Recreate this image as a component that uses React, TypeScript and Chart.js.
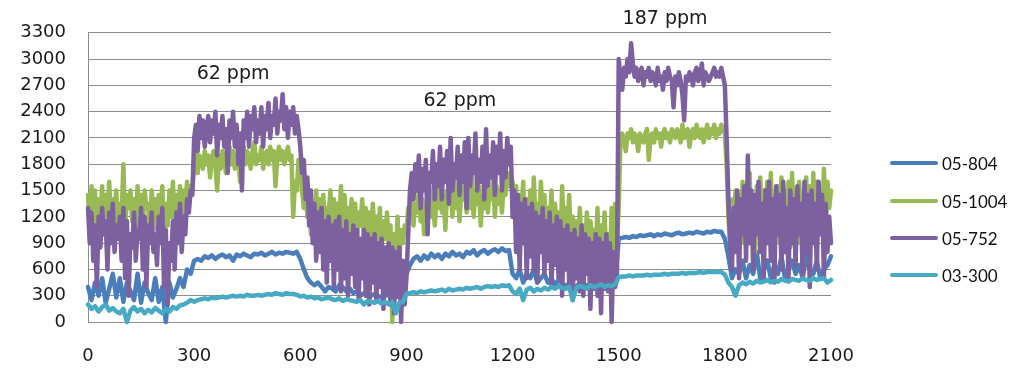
import React, { useEffect, useRef } from "react";
import { Chart, registerables } from "chart.js";

Chart.register(...registerables);

// x sampling positions
const xCoarse: number[] = Array.from({ length: 211 }, (_, i) => i * 10); // 0..2100 step 10
const xFine: number[] = Array.from({ length: 421 }, (_, i) => i * 5); // 0..2100 step 5

const seriesNames = ["05-804", "05-1004", "05-752", "03-300"];
const seriesColors = ["#4a7ebb", "#98b954", "#7d60a0", "#46aac5"];

// step 10
const s05_804: number[] = [
  400, 250, 450, 300, 500, 220, 380, 550, 280, 500, 230, 450, 350, 250, 550, 220, 450, 330, 250, 500, 230, 400, 0, 450, 280, 380, 500, 400, 600, 550,
  700, 720, 700, 750, 730, 760, 720, 750, 770, 740, 760, 700, 770, 750, 780, 760, 740, 780, 770, 790, 760, 780, 800, 770, 790, 780, 800, 790, 780, 800,
  720, 600, 500, 450, 420, 450, 400, 350, 400, 380, 350, 420, 400, 350, 380, 330, 350, 300, 330, 310, 300, 320, 300, 280, 300, 310, 280, 300, 280, 290,
  550, 650, 720, 750, 700, 760, 720, 780, 740, 770, 720, 780, 750, 800, 760, 780, 740, 800, 780, 820, 760, 800, 820, 780, 810, 830, 800, 840, 810, 820,
  550, 500, 600, 450, 550, 500, 600, 450, 500, 550, 450, 500, 420, 480, 450, 400, 450, 420, 400, 450, 380, 420, 400, 380, 420, 400, 380, 400, 420, 450,
  950, 960, 970, 960, 980, 970, 990, 980, 990, 1000, 980, 1000, 990, 1010, 1000, 990, 1010, 1020, 1000, 1010, 1020, 1010, 1030, 1020, 1010, 1030, 1020, 1040, 1030, 1030,
  950, 750, 500, 600, 550, 700, 500, 650, 550, 800, 500, 600, 700, 500, 650, 550, 750, 500, 600, 700, 550, 650, 500, 750, 600, 550, 700, 500, 600, 650,
  750,
];

// step 5
const s05_1004: number[] = [
  1450, 1100, 1550, 1300, 1500, 900, 1400, 1200, 1550, 1000, 1450, 1250, 1600, 1100, 1400, 1300, 1500, 1000, 1350, 1200,
  1800, 1050, 1450, 1300, 1500, 1150, 1400, 1000, 1550, 1250, 1450, 1100, 1500, 1300, 1350, 950, 1500, 1200, 1400, 1050,
  1450, 1250, 1550, 900, 1350, 1100, 1500, 1200, 1600, 1050, 1450, 1300, 1550, 1150, 1500, 1350, 1600, 1400, 1550, 1500,
  1800, 1950, 1700, 1900, 1850, 1750, 1950, 1800, 1900, 1650, 1850, 1950, 1800, 1500, 1900, 1750, 1950, 1850, 1700, 1900,
  2000, 1800, 1950, 1750, 1900, 1850, 1600, 1900, 2000, 1800, 1950, 1850, 1750, 1950, 2050, 1800, 1900, 1850, 2000, 1750,
  1900, 1950, 1800, 2000, 1850, 1950, 1550, 1900, 2000, 1850, 1950, 1800, 1900, 2000, 1850, 1900, 1200, 1600, 1500, 1850,
  1750, 1500, 1300, 1600, 1200, 1450, 1000, 1350, 1100, 1500, 950, 1400, 1150, 1450, 1000, 1300, 1200, 1500, 1050, 1400,
  900, 1350, 1100, 1550, 1000, 1450, 1150, 1300, 950, 1400, 1050, 1350, 900, 1250, 1100, 1400, 950, 1300, 1000, 1250,
  850, 1350, 1000, 1200, 900, 1300, 800, 1150, 950, 1250, 850, 1100, 0, 1000, 800, 1200, 700, 1050, 900, 1100,
  1000, 1300, 1200, 1450, 1100, 1350, 1250, 1500, 1150, 1400, 1000, 1350, 1300, 1550, 1200, 1450, 1100, 1400, 1300, 1600,
  1250, 1450, 1050, 1500, 1350, 1550, 1200, 1650, 1300, 1450, 1150, 1500, 1400, 1600, 1250, 1450, 1300, 1700, 1200, 1500,
  1350, 1550, 1100, 1450, 1300, 1600, 1250, 1500, 1400, 1650, 1200, 1550, 1350, 1500, 1250, 1600, 1450, 1700, 1550, 1650,
  1600, 1200, 1550, 1000, 1450, 1250, 1600, 900, 1400, 1150, 1500, 1000, 1650, 1100, 1350, 950, 1600, 1200, 1450, 900,
  1300, 1100, 1500, 850, 1350, 1050, 1250, 800, 1550, 1000, 1300, 900, 1450, 850, 1200, 1000, 1150, 750, 1300, 900,
  1100, 800, 1250, 700, 1150, 900, 1050, 750, 1300, 650, 1100, 850, 1250, 700, 1000, 600, 1300, 800, 1350, 900,
  1300, 2100, 2150, 2050, 1950, 2150, 2100, 2200, 2050, 2150, 2100, 1950, 2150, 2100, 2050, 2150, 2200, 1850, 2100, 2150,
  2050, 2200, 2100, 2150, 2000, 2150, 2200, 2100, 2150, 2050, 2200, 2150, 2100, 2200, 2150, 2050, 2250, 2100, 2150, 2200,
  2000, 2150, 2200, 2100, 2250, 2150, 2100, 2200, 2050, 2150, 2250, 2100, 2200, 2150, 2250, 2100, 2200, 2150, 2250, 2200,
  2150, 1800, 1200, 900, 1400, 1000, 1500, 800, 1450, 1100, 1600, 900, 1500, 1200, 1700, 1000, 1450, 800, 1550, 1100,
  1650, 900, 1500, 1200, 1600, 1000, 1700, 800, 1450, 1100, 1550, 900, 1650, 1200, 1500, 1000, 1600, 850, 1700, 1100,
  1500, 900, 1600, 1200, 1450, 1000, 1650, 800, 1550, 1100, 1700, 950, 1600, 1200, 1500, 1000, 1750, 1100, 1600, 1300,
  1500,
];

// step 5
const s05_752: number[] = [
  1300, 900, 1250, 700, 1100, 400, 1200, 850, 1300, 1000, 1150, 600, 1250, 900, 1350, 800, 1100, 950, 1200, 700,
  1300, 500, 1150, 300, 1000, 850, 1250, 700, 1050, 950, 1300, 600, 1200, 400, 1100, 900, 1250, 800, 1000, 650,
  1200, 900, 1300, 400, 1050, 200, 900, 700, 1150, 600, 1250, 900, 1350, 800, 1200, 1000, 1400, 1250, 1500, 1450,
  2100, 2250, 1950, 2350, 2100, 2300, 2000, 2200, 2350, 2050, 2300, 2150, 2400, 1900, 2250, 2100, 2350, 2000, 2200, 1700,
  2300, 2100, 2400, 2000, 2250, 1800, 2150, 1500, 2300, 2100, 2400, 2000, 2350, 2200, 2450, 2050, 2300, 2150, 2450, 2000,
  2350, 2200, 2500, 2100, 2350, 2250, 2550, 2150, 2400, 2300, 2600, 2200, 2450, 2100, 2400, 2250, 2450, 2150, 2350, 2200,
  2000, 1700, 1850, 1400, 1650, 1100, 1500, 900, 1350, 700, 1250, 800, 1300, 600, 1150, 450, 1200, 700, 1100, 400,
  1150, 600, 1200, 350, 1050, 500, 1150, 300, 1000, 550, 1100, 400, 1050, 250, 950, 500, 1050, 300, 1000, 200,
  950, 450, 1000, 250, 900, 400, 950, 150, 850, 350, 900, 200, 850, 100, 800, 300, 850, 0, 700, 200,
  500, 1000, 1500, 1700, 1400, 1800, 1500, 1900, 1300, 1750, 1500, 1850, 1000, 1700, 1600, 1950, 1400, 1800, 1550, 2000,
  1400, 1850, 1600, 1950, 1350, 2100, 1500, 1800, 1650, 2000, 1450, 1900, 1600, 2050, 1300, 2100, 1550, 1900, 1700, 2150,
  1500, 1850, 1600, 2000, 1400, 2200, 1550, 1900, 1650, 2050, 1450, 2000, 1700, 2150, 1500, 1950, 1650, 2100, 1800, 2000,
  1200, 1500, 800, 1450, 600, 1350, 900, 1400, 500, 1300, 750, 1350, 600, 1250, 450, 1200, 800, 1300, 550, 1150,
  700, 1250, 400, 1100, 650, 1200, 500, 1150, 300, 1050, 600, 1100, 450, 1000, 250, 1050, 500, 950, 350, 1100,
  300, 1000, 550, 950, 150, 900, 400, 1000, 300, 950, 100, 900, 450, 1000, 350, 900, 0, 800, 400, 500,
  3000, 2750, 2650, 2900, 2800, 3000, 2850, 3180, 2950, 2800, 2900, 2750, 2850, 2900, 2700, 2850, 2800, 2900, 2750, 2850,
  2800, 2700, 2900, 2750, 2800, 2650, 2850, 2750, 2900, 2800, 2750, 2450, 2800, 2700, 2850, 2750, 2600, 2300, 2800, 2750,
  2850, 2800, 2700, 2850, 2900, 2750, 2800, 2950, 2700, 2850, 2800, 2750, 2800, 2850, 2900, 2800, 2850, 2800, 2900, 2800,
  2700, 2100, 1400, 900, 600, 1300, 800, 1500, 500, 1400, 1000, 1550, 700, 1900, 900, 1500, 600, 1450, 1000, 1600,
  800, 1350, 500, 1500, 900, 1600, 700, 1400, 450, 1550, 1000, 1450, 600, 1600, 800, 1300, 500, 1500, 900, 1400,
  650, 1550, 1000, 1350, 500, 1600, 800, 1450, 400, 1500, 900, 1350, 600, 1600, 1000, 1450, 500, 1350, 800, 1200,
  900,
];

// step 10
const s03_300: number[] = [
  200, 150, 180, 120, 170, 200, 130, 160, 120, 100, 150, 0, 130, 170, 120, 150, 100, 140, 110, 160, 130, 100, 150, 120, 170, 150, 190, 200, 220, 250,
  230, 250, 260, 270, 260, 280, 270, 280, 290, 280, 290, 300, 290, 300, 290, 310, 300, 300, 310, 300, 310, 320, 310, 330, 320, 310, 330, 320, 320, 310,
  290, 300, 280, 290, 270, 280, 260, 270, 280, 260, 250, 270, 240, 260, 250, 240, 230, 250, 200, 240, 230, 220, 240, 210, 230, 200, 230, 100, 220, 230,
  320, 330, 340, 330, 350, 340, 350, 360, 350, 360, 370, 350, 380, 360, 370, 380, 370, 390, 380, 390, 400, 380, 400, 410, 400, 410, 400, 420, 410, 420,
  350, 320, 380, 250, 370, 390, 350, 380, 360, 390, 370, 400, 380, 410, 390, 380, 400, 250, 390, 410, 400, 380, 420, 400, 410, 430, 400, 420, 410, 430,
  510, 520, 520, 530, 520, 530, 530, 530, 540, 530, 540, 540, 540, 550, 540, 550, 550, 550, 560, 550, 560, 560, 560, 570, 560, 570, 570, 570, 570, 570,
  540, 450, 400, 300, 420, 450, 430, 460, 440, 470, 450, 460, 480, 450, 470, 460, 490, 470, 460, 490, 480, 470, 500, 480, 470, 500, 480, 490, 500, 450,
  480,
];

const allSeries = [s05_804, s05_1004, s05_752, s03_300];
const seriesX = [xCoarse, xFine, xFine, xCoarse];
const drawOrder = [3, 2, 1, 0];

const annotationTexts = ["62 ppm", "62 ppm", "187 ppm"];
const annotationX = [410, 1051, 1631];
const annotationY = [2833, 2526, 3459];

const yTicksMax = 3300;
const xTicksMax = 2100;
const tickStep = 300;

export default function App() {
  const canvasRef = useRef<HTMLCanvasElement | null>(null);

  useEffect(() => {
    document.body.style.margin = "0";
    const ctx = canvasRef.current;
    if (!ctx) return;

    const annotationPlugin = {
      id: "ppmLabels",
      afterDraw(chart: any) {
        const c = chart.ctx;
        const xs = chart.scales.x;
        const ys = chart.scales.y;
        c.save();
        c.font = "19px 'DejaVu Sans'";
        c.fillStyle = "#1a1a1a";
        c.textAlign = "center";
        c.textBaseline = "middle";
        annotationTexts.forEach((t, i) => {
          c.fillText(t, xs.getPixelForValue(annotationX[i]), ys.getPixelForValue(annotationY[i]));
        });
        c.restore();
      },
    };

    const chart = new Chart(ctx, {
      type: "line",
      data: {
        datasets: allSeries.map((vals, si) => ({
          label: seriesNames[si],
          data: vals.map((v, i) => ({ x: seriesX[si][i], y: v })),
          borderColor: seriesColors[si],
          backgroundColor: seriesColors[si],
          borderWidth: 4.5,
          pointRadius: 0,
          tension: 0,
          borderJoinStyle: "round" as const,
          borderCapStyle: "round" as const,
          order: drawOrder[si],
          clip: false as any,
        })),
      },
      options: {
        animation: false,
        responsive: false,
        maintainAspectRatio: false,
        layout: { padding: { left: 0, right: 178, top: 32, bottom: 0 } },
        plugins: {
          legend: { display: false },
          tooltip: { enabled: false },
        },
        scales: {
          x: {
            type: "linear",
            min: 0,
            max: xTicksMax,
            afterFit: (s: any) => {
              s.height = 46;
            },
            ticks: {
              stepSize: tickStep,
              padding: 24,
              maxRotation: 0,
              color: "#1a1a1a",
              font: { family: "'DejaVu Sans'", size: 18 },
              callback: (v: any) => String(v),
            },
            grid: { display: false, drawTicks: false },
            border: { display: false },
          },
          y: {
            min: 0,
            max: yTicksMax,
            afterFit: (s: any) => {
              s.width = 88;
            },
            ticks: {
              stepSize: tickStep,
              padding: 22,
              color: "#1a1a1a",
              font: { family: "'DejaVu Sans'", size: 18 },
              callback: (v: any) => String(v),
            },
            grid: { color: "#8c8c8c", lineWidth: 1, drawTicks: false },
            border: { display: true, color: "#8c8c8c" },
          },
        },
      },
      plugins: [annotationPlugin],
    });
    return () => chart.destroy();
  }, []);

  const legendTop = [163, 201, 238, 275];

  return (
    <div style={{ position: "relative", width: 1009, height: 368, background: "#fff" }}>
      <canvas ref={canvasRef} width={1009} height={368} style={{ position: "absolute", left: 0, top: 0 }} />
      {seriesNames.map((n, i) => (
        <div
          key={n}
          style={{
            position: "absolute",
            left: 890,
            top: legendTop[i] - 11,
            height: 22,
            display: "flex",
            alignItems: "center",
            fontFamily: "Lato",
            fontSize: 17,
            color: "#111",
          }}
        >
          <div style={{ width: 48, height: 4, borderRadius: 2, background: seriesColors[i], marginRight: 4 }} />
          <span>{n}</span>
        </div>
      ))}
    </div>
  );
}
